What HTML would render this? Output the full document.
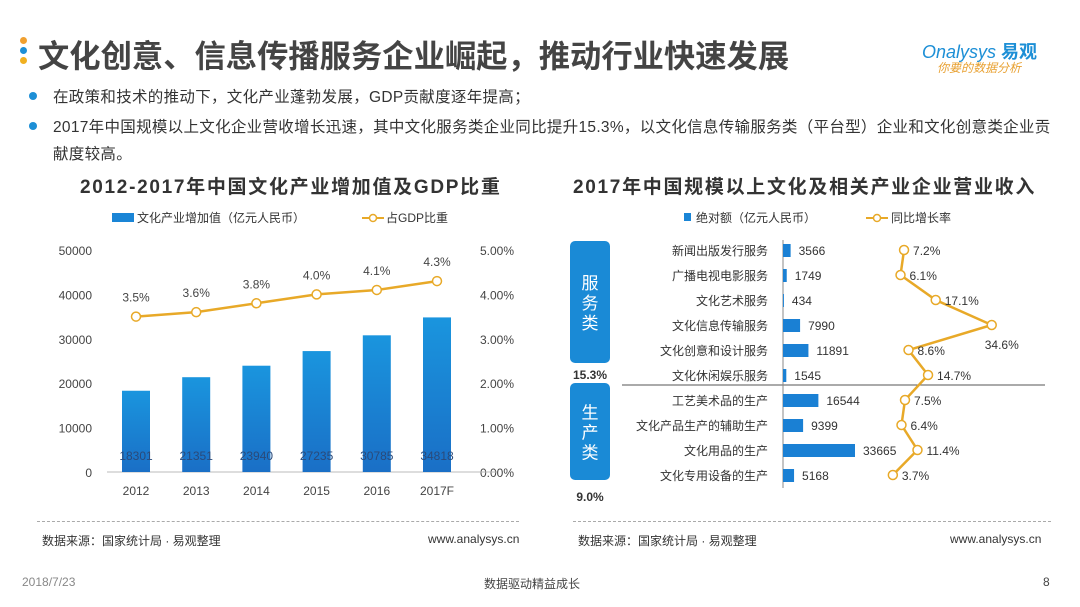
<!DOCTYPE html>
<html><head><meta charset="utf-8">
<style>
body{margin:0;width:1080px;height:607px;background:#fff;overflow:hidden;font-family:"Liberation Sans","Noto Sans CJK SC",sans-serif;position:relative}
.t{position:absolute;white-space:nowrap}
.b{font-size:15.5px;letter-spacing:0.3px;color:#333}
</style></head><body>
<div style="position:absolute;left:20px;top:37px;width:7px">
 <div style="width:7px;height:7px;border-radius:50%;background:#f0a030;margin-bottom:3px"></div>
 <div style="width:7px;height:7px;border-radius:50%;background:#1d8fd6;margin-bottom:3px"></div>
 <div style="width:7px;height:7px;border-radius:50%;background:#f0b020"></div>
</div>
<div class="t" style="left:38px;top:32px;font-size:31.3px;font-weight:bold;color:#444">文化创意、信息传播服务企业崛起，推动行业快速发展</div>
<div class="t" style="left:922px;top:38px;font-size:18px;color:#1d8fd6;font-style:italic">Onalysys <b style="font-style:normal">易观</b></div>
<div class="t" style="left:937px;top:59px;font-size:12px;color:#e8a030;font-style:italic">你要的数据分析</div>
<div>
<div style="position:absolute;left:29px;top:92px;width:8px;height:8px;border-radius:50%;background:#1d8fd6"></div>
<div class="t b" style="left:53px;top:85px">在政策和技术的推动下，文化产业蓬勃发展，GDP贡献度逐年提高；</div></div>
<div>
<div style="position:absolute;left:29px;top:122px;width:8px;height:8px;border-radius:50%;background:#1d8fd6"></div>
<div class="t b" style="left:53px;top:115px">2017年中国规模以上文化企业营收增长迅速，其中文化服务类企业同比提升15.3%，以文化信息传输服务类（平台型）企业和文化创意类企业贡</div>
<div class="t b" style="left:53px;top:142px">献度较高。</div></div>
<div class="t" style="left:80px;top:172px;font-size:19px;letter-spacing:1.7px;font-weight:bold;color:#333">2012-2017年中国文化产业增加值及GDP比重</div>
<div class="t" style="left:573px;top:172px;font-size:19px;letter-spacing:1.7px;font-weight:bold;color:#333">2017年中国规模以上文化及相关产业企业营业收入</div>

<svg id="chart" width="1080" height="607" style="position:absolute;left:0;top:0" font-family="Liberation Sans, Noto Sans CJK SC, sans-serif">
<defs><linearGradient id="bg" x1="0" y1="0" x2="0" y2="1"><stop offset="0" stop-color="#1a95de"/><stop offset="1" stop-color="#1a6fc6"/></linearGradient></defs>
<g id="left"></g><g id="right"></g>
</svg>

<div>
<div style="position:absolute;left:37px;top:521px;width:482px;border-top:1px dashed #aaa"></div>
<div class="t" style="left:42px;top:532px;font-size:12px;color:#333">数据来源：国家统计局 · 易观整理</div>
<div class="t" style="left:428px;top:532px;font-size:12px;color:#333">www.analysys.cn</div></div>
<div>
<div style="position:absolute;left:573px;top:521px;width:478px;border-top:1px dashed #aaa"></div>
<div class="t" style="left:578px;top:532px;font-size:12px;color:#333">数据来源：国家统计局 · 易观整理</div>
<div class="t" style="left:950px;top:532px;font-size:12px;color:#333">www.analysys.cn</div></div>
<div class="t" style="left:22px;top:575px;font-size:12px;color:#888">2018/7/23</div>
<div class="t" style="left:484px;top:575px;font-size:12px;color:#444">数据驱动精益成长</div>
<div class="t" style="left:1043px;top:575px;font-size:12px;color:#444">8</div>

<script>
const years=["2012","2013","2014","2015","2016","2017F"];
const addedValue=[18301,21351,23940,27235,30785,34818];
const gdpShare=[3.5,3.6,3.8,4.0,4.1,4.3];
const leftTicks=[0,10000,20000,30000,40000,50000];
const rightTicks=[0,1,2,3,4,5];
const cats=["新闻出版发行服务","广播电视电影服务","文化艺术服务","文化信息传输服务","文化创意和设计服务","文化休闲娱乐服务","工艺美术品的生产","文化产品生产的辅助生产","文化用品的生产","文化专用设备的生产"];
const revenue=[3566,1749,434,7990,11891,1545,16544,9399,33665,5168];
const growth=[7.2,6.1,17.1,34.6,8.6,14.7,7.5,6.4,11.4,3.7];
const groupLabels=["服务类","生产类"];
const groupGrowth=["15.3%","9.0%"];

const NS="http://www.w3.org/2000/svg";
function mk(p,tag,a,txt){const e=document.createElementNS(NS,tag);for(const k in a)e.setAttribute(k,a[k]);if(txt!==undefined)e.textContent=txt;p.appendChild(e);return e;}
const L=document.getElementById('left'), R=document.getElementById('right');
const y0=472,yTop=250;
const yv=v=>y0-(v/50000)*(y0-yTop);
const yp=v=>y0-(v/5)*(y0-yTop);
const xc=i=>136+i*60.2;
let e;
e=mk(L,'rect',{x:112,y:213,width:22,height:9,fill:'#1a85d6'});

mk(L,'text',{x:137,y:222,'font-size':12,fill:'#333'},'文化产业增加值（亿元人民币）');
e=mk(L,'line',{x1:362,y1:218,x2:384,y2:218,stroke:'#e8a928','stroke-width':2});

mk(L,'circle',{cx:373,cy:218,r:3.5,fill:'#fff',stroke:'#e8a928','stroke-width':1.5});
mk(L,'text',{x:386,y:222,'font-size':12,fill:'#333'},'占GDP比重');
leftTicks.forEach(t=>{e=mk(L,'text',{x:92,y:yv(t)+5,'font-size':12,fill:'#444','text-anchor':'end'},t);});
rightTicks.forEach(t=>{e=mk(L,'text',{x:480,y:yp(t)+5,'font-size':12,fill:'#444'},t.toFixed(2)+'%');});
mk(L,'line',{x1:107,y1:y0,x2:497,y2:y0,stroke:'#bbb','stroke-width':1});
years.forEach((y,i)=>{
 e=mk(L,'rect',{x:xc(i)-14,y:yv(addedValue[i]),width:28,height:y0-yv(addedValue[i]),fill:'url(#bg)'});
 
 mk(L,'text',{x:xc(i),y:460,'font-size':12,fill:'#2a4a7a','text-anchor':'middle'},addedValue[i]);
 e=mk(L,'text',{x:xc(i),y:495,'font-size':12,fill:'#444','text-anchor':'middle'},y);
 
});
e=mk(L,'polyline',{points:years.map((y,i)=>xc(i)+','+yp(gdpShare[i])).join(' '),fill:'none',stroke:'#e8a928','stroke-width':2.5});

years.forEach((y,i)=>{
 e=mk(L,'circle',{cx:xc(i),cy:yp(gdpShare[i]),r:4.5,fill:'#fff',stroke:'#e8a928','stroke-width':1.5});
 
 mk(L,'text',{x:xc(i),y:yp(gdpShare[i])-15,'font-size':12,fill:'#444','text-anchor':'middle'},gdpShare[i].toFixed(1)+'%');
});
const bx=783, bs=72/33665;
const ry=i=>250+i*25;
const gx=v=>881+v*3.2;
e=mk(R,'rect',{x:684,y:213,width:7,height:8,fill:'#1a85d6'});

mk(R,'text',{x:696,y:222,'font-size':12,fill:'#333'},'绝对额（亿元人民币）');
e=mk(R,'line',{x1:866,y1:218,x2:888,y2:218,stroke:'#e8a928','stroke-width':2});

mk(R,'circle',{cx:877,cy:218,r:3.5,fill:'#fff',stroke:'#e8a928','stroke-width':1.5});
mk(R,'text',{x:891,y:222,'font-size':12,fill:'#333'},'同比增长率');
const boxes=[[241,363,374],[383,480,496]];
boxes.forEach((b,k)=>{
 e=mk(R,'rect',{x:570,y:b[0],width:40,height:b[1]-b[0],rx:5,fill:'#1a8ad6'});
 
 const mid=(b[0]+b[1])/2;
 [...groupLabels[k]].forEach((c,j)=>mk(R,'text',{x:590,y:mid-13+j*20,'font-size':17,fill:'#fff','text-anchor':'middle'},c));
 mk(R,'text',{x:590,y:b[2]+5,'font-size':12,'font-weight':'bold',fill:'#333','text-anchor':'middle'},groupGrowth[k]);
});
mk(R,'line',{x1:622,y1:385,x2:1045,y2:385,stroke:'#555','stroke-width':1});
mk(R,'line',{x1:bx,y1:240,x2:bx,y2:488,stroke:'#888','stroke-width':1});
cats.forEach((c,i)=>{
 e=mk(R,'text',{x:768,y:ry(i)+5,'font-size':12,fill:'#333','text-anchor':'end'},c);
 
 const w=revenue[i]*bs;
 e=mk(R,'rect',{x:bx,y:ry(i)-6,width:Math.max(w,0.5),height:13,fill:'#1a80d4'});
 
 mk(R,'text',{x:bx+w+8,y:ry(i)+5,'font-size':12,fill:'#333'},revenue[i]);
});
e=mk(R,'polyline',{points:cats.map((c,i)=>gx(growth[i])+','+ry(i)).join(' '),fill:'none',stroke:'#e8a928','stroke-width':2.5});

cats.forEach((c,i)=>{
 e=mk(R,'circle',{cx:gx(growth[i]),cy:ry(i),r:4.5,fill:'#fff',stroke:'#e8a928','stroke-width':1.5});
 
 const big=growth[i]>30;
 mk(R,'text',{x:gx(growth[i])+(big?-7:9),y:ry(i)+(big?24:5),'font-size':12,fill:'#333'},growth[i].toFixed(1)+'%');
});
</script>
</body></html>
